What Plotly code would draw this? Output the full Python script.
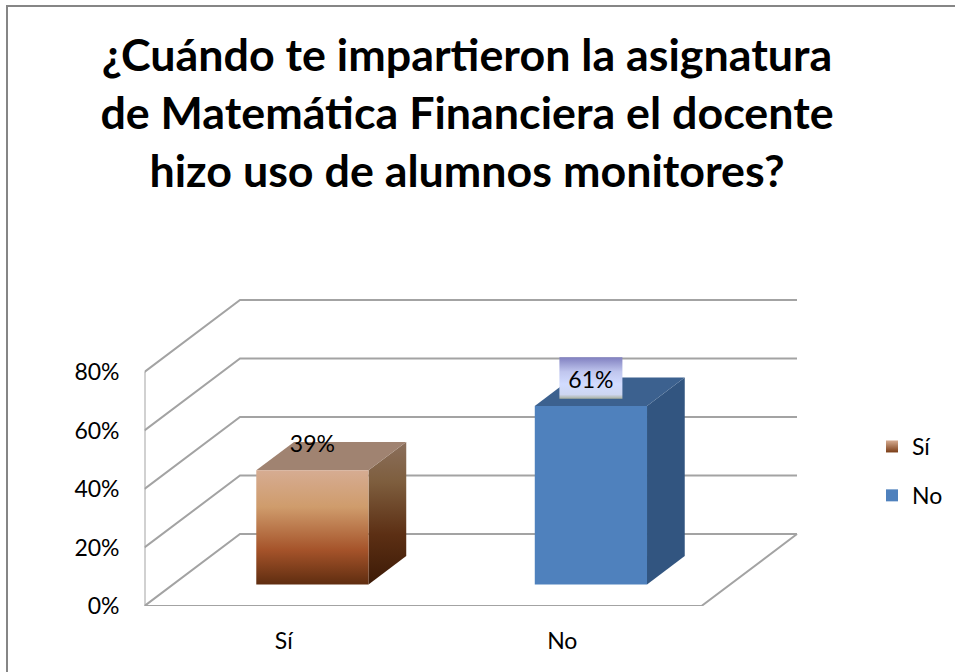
import plotly.graph_objects as go

# ---- data ----
categories = ["Sí", "No"]
values = [0.39, 0.61]
value_labels = ["39%", "61%"]
y_ticks = [0, 0.2, 0.4, 0.6, 0.8]
y_tick_labels = ["0%", "20%", "40%", "60%", "80%"]
title_text = ("¿Cuándo te impartieron la asignatura<br>"
              "de Matemática Financiera el docente<br>"
              "hizo uso de alumnos monitores?")

# ---- styling / chart geometry ----
W, H = 955, 672
FONT = "Lato, Carlito, Calibri, sans-serif"
TXT = 23
PX_X = 278.5          # pixels per category
PX_Y = 292.5          # pixels per 100 %
DEPTH_PX = (95.5, 72) # oblique shift of the floor depth
L, B = 144.5, 66      # plot origin from left / bottom
R_PX, T_PX = 815, 280
GRID = "#a3a3a3"
DX = DEPTH_PX[0] / PX_X
DY = DEPTH_PX[1] / PX_Y
BAR_W = 0.403
D0, D1 = 0.30, 0.695

def proj(x, y, d):
    return x + d * DX, y + d * DY

fig = go.Figure()

def line(xs, ys, ds, width=2, color=GRID):
    p = [proj(a, b, c) for a, b, c in zip(xs, ys, ds)]
    fig.add_trace(go.Scatter(x=[q[0] for q in p], y=[q[1] for q in p], mode="lines",
                             line=dict(color=color, width=width), showlegend=False,
                             hoverinfo="skip", cliponaxis=False))

n = len(categories)
# walls and floor
for t in y_ticks:
    line([0, 0, n], [t, t, t], [0, 1, 1])
line([0, 0], [0, y_ticks[-1]], [0, 0])
line([0, n, n], [0, 0, 0], [0, 0, 1])

def face(pts, fillcolor=None, scale=None):
    p = [proj(*q) for q in pts]
    kw = dict(fillcolor=fillcolor) if fillcolor else dict(
        fillgradient=dict(type="vertical", colorscale=scale))
    fig.add_trace(go.Scatter(x=[q[0] for q in p] + [p[0][0]], y=[q[1] for q in p] + [p[0][1]],
                             mode="lines", fill="toself", line=dict(width=0),
                             showlegend=False, hoverinfo="skip", cliponaxis=False, **kw))

SI_FRONT = [[0, "#5f2d10"], [0.3, "#a5532a"], [0.68, "#cf9c6c"], [1, "#d6ac92"]]
SI_SIDE = [[0, "#3c1a06"], [0.35, "#5c2f14"], [0.72, "#7e5e3e"], [1, "#8b6f5c"]]
styles = [
    dict(front=dict(scale=SI_FRONT), side=dict(scale=SI_SIDE), top=dict(fillcolor="#a08371")),
    dict(front=dict(fillcolor="#4f81bd"), side=dict(fillcolor="#325580"), top=dict(fillcolor="#3c618f")),
]
for i, v in enumerate(values):
    x0 = i + 0.5 - BAR_W / 2
    x1 = i + 0.5 + BAR_W / 2
    face([(x1, 0, D0), (x1, 0, D1), (x1, v, D1), (x1, v, D0)], **styles[i]["side"])
    face([(x0, v, D0), (x1, v, D0), (x1, v, D1), (x0, v, D1)], **styles[i]["top"])
    face([(x0, 0, D0), (x1, 0, D0), (x1, v, D0), (x0, v, D0)], **styles[i]["front"])

# data label positions, tied to the front-top of each bar
lx, ly = [], []
for i, v in enumerate(values):
    a, b = proj(i + 0.5, v + 24 / PX_Y, D0)
    lx.append(a); ly.append(b)

# gradient background behind the second label
hw, hh = 31.5 / PX_X, 20.7 / PX_Y
by = ly[1] + 4 / PX_Y
fig.add_trace(go.Scatter(
    x=[lx[1] - hw, lx[1] + hw, lx[1] + hw, lx[1] - hw, lx[1] - hw],
    y=[by - hh, by - hh, by + hh, by + hh, by - hh],
    mode="lines", fill="toself", line=dict(width=0), showlegend=False, hoverinfo="skip",
    fillgradient=dict(type="vertical", colorscale=[[0, "#a9b09f"], [0.1, "#cdd6f0"], [0.35, "#d2dcff"],
                                                   [0.65, "#c0c6ee"], [1, "#8080c0"]])))

fig.add_trace(go.Scatter(x=lx, y=ly, mode="text", text=value_labels, textposition="middle center",
                         textfont=dict(family=FONT, size=TXT, color="#000000"),
                         showlegend=False, hoverinfo="skip", cliponaxis=False))

# legend entries
legend_colors = [("#d6ac92", "#7a3c15"), ("#4f81bd", "#4f81bd")]
for name, (c0, c1) in zip(categories, legend_colors):
    fig.add_trace(go.Scatter(x=[None], y=[None], mode="markers", name=name, legendgroup=name,
                             marker=dict(symbol="square", size=17, color=c0,
                                         gradient=dict(type="vertical", color=c1))))

fig.update_layout(
    width=W, height=H, autosize=False,
    margin=dict(l=0, r=0, t=0, b=0, autoexpand=False),
    paper_bgcolor="#ffffff", plot_bgcolor="rgba(0,0,0,0)",
    font=dict(family=FONT, size=TXT, color="#000000"),
    title=dict(text=title_text, x=467 / W, xanchor="center", y=1 - 71 / H, yanchor="top",
               font=dict(family=FONT, size=44.8, color="#000000", weight="bold")),
    xaxis=dict(domain=[L / W, R_PX / W], range=[0, (R_PX - L) / PX_X],
               tickmode="array", tickvals=[i + 0.5 for i in range(n)], ticktext=categories,
               showgrid=False, zeroline=False, showline=False, ticks="", ticklabelstandoff=19),
    yaxis=dict(domain=[B / H, 1 - T_PX / H], range=[0, (H - B - T_PX) / PX_Y],
               tickmode="array", tickvals=y_ticks, ticktext=y_tick_labels,
               showgrid=False, zeroline=False, showline=False, ticks="", ticklabelstandoff=24),
    legend=dict(x=872 / W, xanchor="left", y=1 - 425 / H, yanchor="top", tracegroupgap=16,
                bgcolor="rgba(0,0,0,0)", font=dict(family=FONT, size=TXT), itemwidth=30,
                itemsizing="constant"),
    shapes=[dict(type="rect", xref="paper", yref="paper", x0=7 / W, x1=1.02, y0=-0.02, y1=1 - 6 / H,
                 line=dict(color="#868686", width=2), fillcolor="rgba(0,0,0,0)", layer="below")],
    showlegend=True,
)

fig.write_html("out.html", config=dict(displayModeBar=False),
               post_script="document.body.style.margin='0';document.documentElement.style.overflow='hidden';")
